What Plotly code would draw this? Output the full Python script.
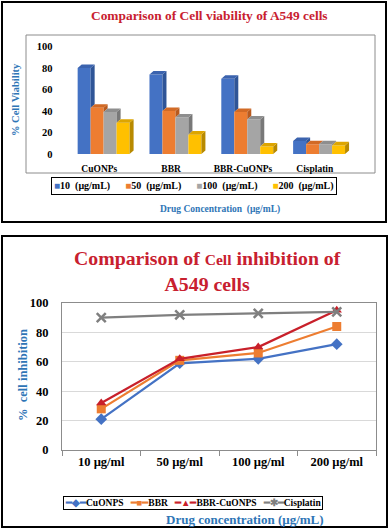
import plotly.graph_objects as go

W, H = 389, 529


def px(x):
    return x / W


def py(y):
    return 1 - y / H


# ---------------- data ----------------
drugs = ["CuONPs", "BBR", "BBR-CuONPs", "Cisplatin"]
dose_names = ["10  (μg/mL)", "50  (μg/mL)", "100  (μg/mL)", "200  (μg/mL)"]
via_10 = [80, 74, 70, 12]
via_50 = [43, 40, 39, 9]
via_100 = [39, 34, 32, 9]
via_200 = [29, 18, 7, 8]

dose_labels = ["10 µg/ml", "50 µg/ml", "100 µg/ml", "200 µg/ml"]
inh_names = ["CuONPS", "BBR", "BBR-CuONPS", "Cisplatin"]
inh_cuonps = [21, 59, 62, 72]
inh_bbr = [28, 61, 66, 84]
inh_bbr_cuonps = [32, 62, 70, 95]
inh_cisplatin = [90, 92, 93, 94]

# ---------------- styles ----------------
SERIF = "Liberation Serif, Times New Roman, serif"
RED = "#C8202F"
BLUE_T = "#2E75B6"
NB = "\u00a0"
front = ["#4472C4", "#ED7D31", "#A5A5A5", "#FFC000"]
side = ["#2F5597", "#B85A1E", "#787878", "#B88A00"]
topc = ["#3B63AE", "#D26A25", "#8E8E8E", "#DDA500"]

fig = go.Figure()

# ---------------- top chart: 3D-looking bars ----------------
series = [via_10, via_50, via_100, via_200]
xs = list(range(len(drugs)))
bargap = 0.277
bw = (1 - bargap) / 4
dx, dy = 0.056, 3.3

for j, vals in enumerate(series):
    fig.add_trace(go.Bar(
        x=xs, y=vals, name=dose_names[j], marker=dict(color=front[j], line=dict(width=0)),
        xaxis="x", yaxis="y", showlegend=False, hoverinfo="skip"))

for j, vals in enumerate(series):
    sx, sy, tx, ty = [], [], [], []
    for i, v in enumerate(vals):
        left = i - (1 - bargap) / 2 + j * bw
        right = left + bw
        if j < len(series) - 1:
            nxt = series[j + 1][i]
            if nxt < v:
                sx += [right, right + dx, right + dx, right, right, None]
                sy += [nxt, nxt + dy, v + dy, v, nxt, None]
        else:
            sx += [right, right + dx, right + dx, right, right, None]
            sy += [0, dy, v + dy, v, 0, None]
        tx += [left, left + dx, right + dx, right, left, None]
        ty += [v, v + dy, v + dy, v, v, None]
    fig.add_trace(go.Scatter(x=sx, y=sy, mode="lines", fill="toself", fillcolor=side[j],
                             line=dict(width=0, color=side[j]), showlegend=False,
                             hoverinfo="skip", xaxis="x", yaxis="y"))
    fig.add_trace(go.Scatter(x=tx, y=ty, mode="lines", fill="toself", fillcolor=topc[j],
                             line=dict(width=0, color=topc[j]), showlegend=False,
                             hoverinfo="skip", xaxis="x", yaxis="y"))

# ---------------- bottom chart: lines ----------------
line_series = [inh_cuonps, inh_bbr, inh_bbr_cuonps, inh_cisplatin]
lcolors = ["#4472C4", "#ED7D31", "#C8202A", "#7F7F7F"]
lsymbols = ["diamond", "square", "triangle-up", "x-thin-open"]
lglyphs = ["◆", "■", "▲", "✱"]
for k, vals in enumerate(line_series):
    fig.add_trace(go.Scatter(
        x=dose_labels, y=vals, name=inh_names[k], mode="lines+markers",
        line=dict(color=lcolors[k], width=2.25),
        marker=dict(symbol=lsymbols[k], size=9, color=lcolors[k],
                    line=dict(color=lcolors[k], width=2.5 if k == 3 else 0)),
        xaxis="x2", yaxis="y2", showlegend=False, hoverinfo="skip"))

tickfont_top = dict(family=SERIF, size=10.5, color="black", weight="bold")
tickfont_bot = dict(family=SERIF, size=12.5, color="black", weight="bold")

fig.update_layout(
    width=W, height=H, margin=dict(l=0, r=0, t=0, b=0, pad=0, autoexpand=False),
    paper_bgcolor="white", plot_bgcolor="rgba(0,0,0,0)",
    barmode="group", bargap=bargap, bargroupgap=0, showlegend=False,
    xaxis=dict(domain=[px(67.7), px(355)], range=[-0.5, 3.5],
               tickvals=[i - 0.06 for i in xs], ticktext=drugs,
               tickfont=dict(family=SERIF, size=9.5, color="black", weight="bold"),
               ticks="outside", ticklen=6, tickcolor="rgba(0,0,0,0)",
               showgrid=False, zeroline=False, showline=False, fixedrange=True),
    yaxis=dict(domain=[py(154), py(46.5)], range=[0, 100], tickvals=[0, 20, 40, 60, 80, 100],
               tickfont=tickfont_top, ticks="outside", ticklen=12, tickcolor="rgba(0,0,0,0)",
               showgrid=False, zeroline=False, showline=False, fixedrange=True),
    xaxis2=dict(domain=[px(62), px(376)], type="category", range=[-0.5, 3.5],
                tickfont=tickfont_bot, ticks="outside", tickson="boundaries", ticklen=5,
                tickcolor="#8C8C8C", showline=True, linecolor="#8C8C8C", linewidth=1.2,
                mirror=True, showgrid=False, zeroline=False, fixedrange=True, anchor="y2"),
    yaxis2=dict(domain=[py(450), py(303)], range=[0, 100], dtick=20,
                tickfont=tickfont_bot, ticks="outside", ticklen=10, tickcolor="rgba(0,0,0,0)",
                showline=True, linecolor="#8C8C8C", linewidth=1.2, mirror=True,
                showgrid=True, gridcolor="#D9D9D9", gridwidth=1, zeroline=False,
                fixedrange=True, anchor="x2"),
)

# frames
fig.add_shape(type="rect", xref="paper", yref="paper", x0=px(2), x1=px(386), y0=py(222), y1=py(2),
              line=dict(color="black", width=2), layer="below")
fig.add_shape(type="rect", xref="paper", yref="paper", x0=px(26), x1=px(375), y0=py(173), y1=py(35),
              line=dict(color="#8C8C8C", width=1), layer="below")
fig.add_shape(type="rect", xref="paper", yref="paper", x0=px(2), x1=px(387), y0=py(527), y1=py(236),
              line=dict(color="black", width=2), layer="below")


def ann(x, y, text, size, color, angle=0, **kw):
    fig.add_annotation(x=px(x), y=py(y), xref="paper", yref="paper", showarrow=False,
                       xanchor="center", yanchor="middle", text=text, textangle=angle,
                       font=dict(family=SERIF, size=size, color=color, weight="bold"), **kw)


# legend of the bar chart (compact, boxed)
legend_top = (NB * 6).join(
    f"<span style='color:{front[j]}'>■</span>{dose_names[j].replace(' ', NB)}"
    for j in range(len(dose_names)))
ann(194, 186, legend_top, 10, "black", bordercolor="black", borderwidth=1, borderpad=2,
    bgcolor="white")

# legend of the line chart (compact, boxed)
legend_bot = (NB * 3).join(
    f"<span style='color:{lcolors[k]}'>━{lglyphs[k]}━</span>{inh_names[k]}"
    for k in range(len(inh_names)))
ann(193, 503, legend_bot, 9.5, "black", bordercolor="black", borderwidth=1, borderpad=1,
    bgcolor="white")

# titles
ann(209.5, 15, "Comparison of Cell viability of A549 cells", 13.4, RED)
ann(15, 100, "% Cell Viability", 10.5, BLUE_T, angle=-90)
ann(220, 209, "Drug Concentration" + NB * 2 + "(μg/mL)", 9.5, BLUE_T)
ann(208, 270.5,
    "Comparison of <span style='font-size:15.5px'>Cell</span> inhibition of<br>A549 cells",
    19.8, RED)
ann(23, 375, "%" + NB * 2 + "cell inhibition", 12.5, BLUE_T, angle=-90)
ann(245, 519, "Drug concentration (μg/mL)", 13, BLUE_T)

fig.write_html("out.html", config={"displayModeBar": False},
               post_script="document.body.style.margin='0';document.body.style.overflow='hidden';")
